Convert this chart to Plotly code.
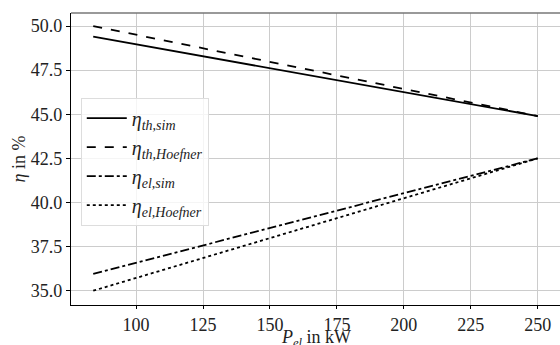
import plotly.graph_objects as go

p_el = [84, 250]
eta_th_sim = [49.4, 44.9]
eta_th_hoefner = [50.0, 44.9]
eta_el_sim = [35.95, 42.5]
eta_el_hoefner = [35.0, 42.5]

names = [
    "<i>η</i><sub><i>th,sim</i></sub>",
    "<i>η</i><sub><i>th,Hoefner</i></sub>",
    "<i>η</i><sub><i>el,sim</i></sub>",
    "<i>η</i><sub><i>el,Hoefner</i></sub>",
]
series = [eta_th_sim, eta_th_hoefner, eta_el_sim, eta_el_hoefner]
dashes = ["solid", "dash", "dashdot", "dot"]

FONT = "Times New Roman, Liberation Serif, serif"

fig = go.Figure()
for n, s, d in zip(names, series, dashes):
    fig.add_trace(go.Scatter(x=p_el, y=s, mode="lines", name=n,
                             line=dict(color="black", width=1.8, dash=d)))

fig.update_layout(
    width=560, height=345,
    margin=dict(l=71, r=0, t=13, b=40),
    paper_bgcolor="white", plot_bgcolor="white",
    font=dict(family=FONT, size=18, color="#222"),
    legend=dict(x=0.02, y=0.71, xanchor="left", yanchor="top",
                bgcolor="rgba(255,255,255,0.8)", bordercolor="#dddddd", borderwidth=1,
                font=dict(family=FONT, size=20), tracegroupgap=0, itemwidth=40),
    showlegend=True,
)
fig.update_xaxes(
    range=[75.7, 258.3], tickvals=[100, 125, 150, 175, 200, 225, 250],
    ticktext=["100", "125", "150", "175", "200", "225", "250"],
    tickfont=dict(family=FONT, size=18),
    showgrid=True, gridcolor="#cccccc", gridwidth=1,
    showline=True, linecolor="black", linewidth=1.2,
    ticks="outside", ticklen=3, tickcolor="black",
    zeroline=False,
)
fig.update_yaxes(
    range=[34.19, 50.74], tickvals=[35, 37.5, 40, 42.5, 45, 47.5, 50],
    ticktext=["35.0", "37.5", "40.0", "42.5", "45.0", "47.5", "50.0"],
    tickfont=dict(family=FONT, size=18),
    showgrid=True, gridcolor="#cccccc", gridwidth=1,
    showline=True, linecolor="black", linewidth=1.2,
    ticks="outside", ticklen=4, tickcolor="black",
    zeroline=False,
    title=dict(text="<i>η</i> in %", standoff=0, font=dict(family=FONT, size=18)),
)
fig.add_shape(type="line", xref="paper", yref="paper", x0=0, x1=1, y0=1, y1=1,
              line=dict(color="#777777", width=1.5))
fig.add_annotation(text="<i>P</i><sub><i>el</i></sub> in kW", xref="paper", yref="paper",
                   x=0.5, y=0, yshift=-33, xanchor="center", yanchor="middle",
                   showarrow=False, font=dict(family=FONT, size=18))

fig.write_html("out.html")
